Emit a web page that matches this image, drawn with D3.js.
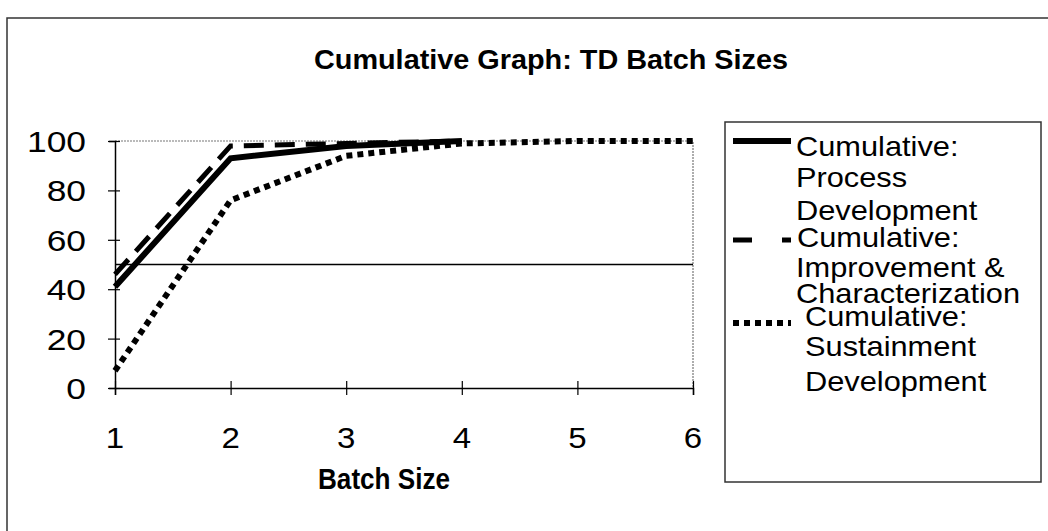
<!DOCTYPE html>
<html>
<head>
<meta charset="utf-8">
<script src="https://cdn.jsdelivr.net/npm/d3@7"></script>
<style>
  body { margin: 0; background: #fff; }
  svg text { font-family: Arial, "Liberation Sans", sans-serif; fill: #000; }
</style>
</head>
<body>
<div class="canvas"></div>
<script>
// chart data
const batchSizes = [1, 2, 3, 4, 5, 6]
const yTicks = [0, 20, 40, 60, 80, 100]
const processDev = [41, 93, 98, 100]
const improvement = [46, 98, 99, 100]
const sustainment = [7, 76, 94, 99, 100, 100]
const refLine = 50

const series = [
  { name: ['Cumulative:', 'Process', ' Development'], values: processDev, width: 6, dash: null, key: null },
  { name: ['Cumulative:', 'Improvement &', 'Characterization'], values: improvement, width: 5, dash: '20,11', key: '19,30,9,100' },
  { name: ['Cumulative:', 'Sustainment', 'Development'], values: sustainment, width: 6, dash: '6,5', key: '6,5' },
]

// layout
const dims = { width: 1048, height: 531 }
const plot = { left: 115, right: 693, top: 141, bottom: 388 }
const sx = 1.14 // the scan is a bit wider than plain Arial

const svg = d3.select('.canvas')
  .append('svg')
  .attr('width', dims.width)
  .attr('height', dims.height)

// helper: text stretched horizontally around its anchor
const label = (x, y, str, size, anchor, bold, stretch = sx) => svg.append('text')
  .attr('transform', `translate(${x}, ${y}) scale(${stretch}, 1)`)
  .attr('text-anchor', anchor)
  .attr('font-size', size)
  .attr('font-weight', bold ? 'bold' : 'normal')
  .text(str)

// outer chart border
svg.append('rect')
  .attr('x', 7).attr('y', 18)
  .attr('width', 1100).attr('height', 600)
  .attr('fill', 'none')
  .attr('stroke', '#333')
  .attr('stroke-width', 1.5)

// title and axis title are a narrow bold face in the scan
label(551, 69, 'Cumulative Graph: TD Batch Sizes', 28, 'middle', true, 1.03)

const x = d3.scaleLinear().domain([1, 6]).range([plot.left, plot.right])
const y = d3.scaleLinear().domain([0, 100]).range([plot.bottom, plot.top])

// plot area frame (top and right, faint)
svg.append('path')
  .attr('d', `M${plot.left},${plot.top}H${plot.right}V${plot.bottom}`)
  .attr('fill', 'none')
  .attr('stroke', '#777')
  .attr('stroke-width', 1.2)
  .attr('stroke-dasharray', '2,1')

// axes
const yAxis = svg.append('g')
  .attr('transform', `translate(${plot.left}, 0)`)
  .call(d3.axisLeft(y).tickValues(yTicks).tickSize(6).tickFormat(''))
yAxis.selectAll('.tick line').attr('x2', 5).attr('x1', -7)

const xAxis = svg.append('g')
  .attr('transform', `translate(0, ${plot.bottom})`)
  .call(d3.axisBottom(x).tickValues(batchSizes).tickSize(7).tickFormat(''))
xAxis.selectAll('.tick line').attr('y1', -7).attr('y2', 7)
svg.selectAll('.domain').attr('stroke', '#000').attr('stroke-width', 1.5)
svg.selectAll('.tick line').attr('stroke', '#000').attr('stroke-width', 1.2)

yTicks.forEach(t => label(86, y(t) + 11, t, 30, 'end', false, 1.18))
batchSizes.forEach(b => label(x(b), 448, b, 30, 'middle', false, 1.1))
label(384, 489, 'Batch Size', 29, 'middle', true, 0.9)

// reference line
svg.append('line')
  .attr('x1', plot.left).attr('x2', plot.right)
  .attr('y1', y(refLine)).attr('y2', y(refLine))
  .attr('stroke', '#000')
  .attr('stroke-width', 1.5)

const line = d3.line()
  .x((d, i) => x(batchSizes[i]))
  .y(d => y(d))

// draw back to front: sustainment, improvement, process
series.slice().reverse().forEach(s => {
  svg.append('path')
    .attr('d', line(s.values))
    .attr('fill', 'none')
    .attr('stroke', '#000')
    .attr('stroke-width', s.width)
    .attr('stroke-dasharray', s.dash)
    .attr('stroke-linejoin', 'miter')
})

// legend
const legend = { x: 725, y: 122, w: 316, h: 360 }
svg.append('rect')
  .attr('x', legend.x).attr('y', legend.y)
  .attr('width', legend.w).attr('height', legend.h)
  .attr('fill', '#fff')
  .attr('stroke', '#333')
  .attr('stroke-width', 1.5)

const baselines = [[156, 187, 220], [247, 277, 303], [326, 356, 391]]
const textX = [[796, 796, 796], [797, 796, 796], [805, 805, 805]]
const sampleY = [141, 240, 323]

series.forEach((s, i) => {
  svg.append('line')
    .attr('x1', 733).attr('x2', 791)
    .attr('y1', sampleY[i]).attr('y2', sampleY[i])
    .attr('stroke', '#000')
    .attr('stroke-width', s.width)
    .attr('stroke-dasharray', s.key)
  s.name.forEach((n, j) => label(textX[i][j], baselines[i][j], n, 27, 'start', false))
})
</script>
</body>
</html>
